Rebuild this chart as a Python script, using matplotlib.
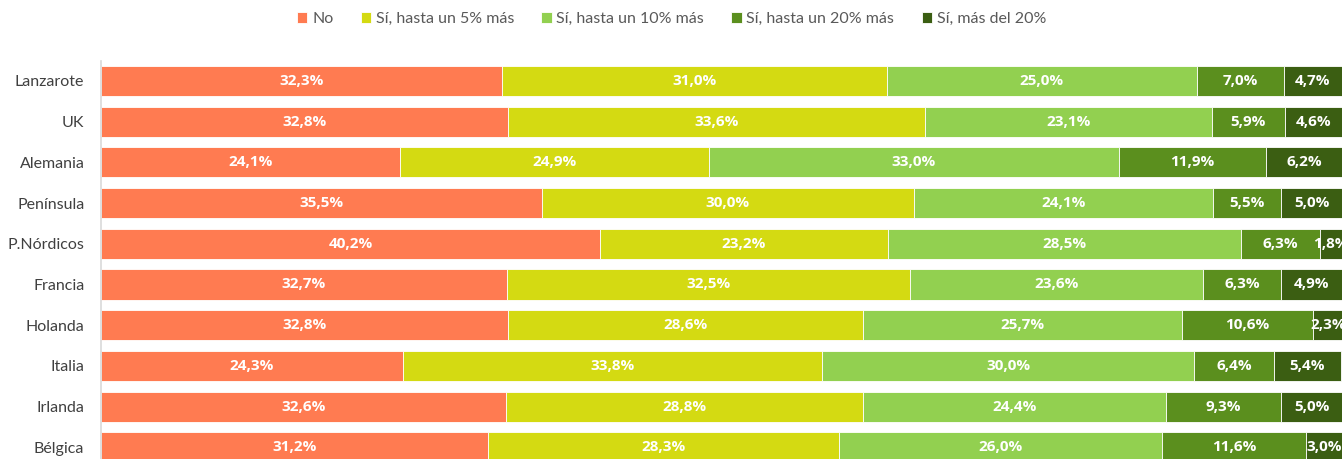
import matplotlib
matplotlib.use("Agg")
import matplotlib.pyplot as plt
import numpy as np

categories = ["Lanzarote", "UK", "Alemania", "Península", "P.Nórdicos",
              "Francia", "Holanda", "Italia", "Irlanda", "Bélgica"]
series_names = ["No", "Sí, hasta un 5% más", "Sí, hasta un 10% más",
                "Sí, hasta un 20% más", "Sí, más del 20%"]
no_vals = [32.3, 32.8, 24.1, 35.5, 40.2, 32.7, 32.8, 24.3, 32.6, 31.2]
s5_vals = [31.0, 33.6, 24.9, 30.0, 23.2, 32.5, 28.6, 33.8, 28.8, 28.3]
s10_vals = [25.0, 23.1, 33.0, 24.1, 28.5, 23.6, 25.7, 30.0, 24.4, 26.0]
s20_vals = [7.0, 5.9, 11.9, 5.5, 6.3, 6.3, 10.6, 6.4, 9.3, 11.6]
smas_vals = [4.7, 4.6, 6.2, 5.0, 1.8, 4.9, 2.3, 5.4, 5.0, 3.0]
colors = ["#FF7B51", "#D4DA12", "#92D050", "#5B8F1E", "#3B5E12"]

plt.rcParams['font.family'] = ['Lato', 'DejaVu Sans']

series = [no_vals, s5_vals, s10_vals, s20_vals, smas_vals]
fig = plt.figure(figsize=(13.43, 4.59), dpi=100)
ax = fig.add_axes([101/1343, -0.0188, 1241/1343, 0.8867])
y = np.arange(len(categories))
left = np.zeros(len(categories))
for name, vals, col in zip(series_names, series, colors):
    vals = np.array(vals)
    ax.barh(y, vals, left=left, height=0.74, color=col, label=name,
            edgecolor='white', linewidth=0.6)
    for yi, (l, v) in enumerate(zip(left, vals)):
        ax.text(l + v / 2, yi, f"{v:.1f}%".replace('.', ','), ha='center', va='center',
                color='white', fontweight='bold', fontsize=11,
                family=['Open Sans', 'DejaVu Sans'])
    left += vals

ax.set_xlim(0, 100)
ax.set_ylim(9.5, -0.5)
ax.set_yticks(y)
ax.set_yticklabels(categories, fontsize=11.5, color='#404040')
ax.tick_params(axis='y', length=0, pad=12)
ax.set_xticks([])
for s in ['top', 'right', 'bottom']:
    ax.spines[s].set_visible(False)
ax.spines['left'].set_color('#D9D9D9')
ax.spines['left'].set_linewidth(1.2)

handles, labels = ax.get_legend_handles_labels()
fig.legend(handles, labels, loc='center', bbox_to_anchor=(0.5, 1 - 19/459), ncol=5,
           frameon=False, fontsize=11.5, handlelength=0.65, handleheight=0.65,
           handletextpad=0.3, columnspacing=1.7, labelcolor='#595959')

fig.savefig("out.png", dpi=100)
